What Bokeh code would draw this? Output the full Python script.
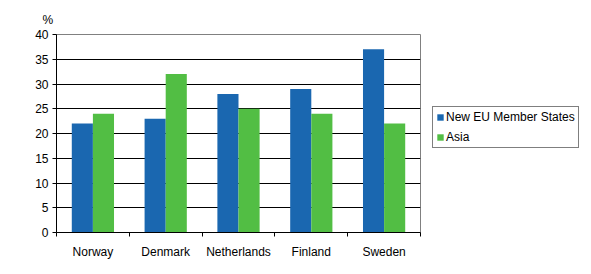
from bokeh.plotting import figure
from bokeh.models import Range1d, FixedTicker, Legend, LegendItem, Title
from bokeh.embed import file_html
from bokeh.resources import INLINE

countries = ["Norway", "Denmark", "Netherlands", "Finland", "Sweden"]
new_eu = [22, 23, 28, 29, 37]
asia = [24, 32, 25, 24, 22]
y_ticks = [0, 5, 10, 15, 20, 25, 30, 35, 40]

BLUE = "#1a67b0"
GREEN = "#52be44"
FONT = "Liberation Sans"
FS = "12px"

n = len(countries)
centers = [i + 0.5 for i in range(n)]
bw = 0.29

p = figure(frame_width=364, frame_height=198, output_backend="svg", toolbar_location=None,
           x_range=Range1d(0, n), y_range=Range1d(0, 40),
           min_border_left=56, min_border_right=171, min_border_top=34, min_border_bottom=42)
p.background_fill_color = "white"
p.border_fill_color = "white"
p.outline_line_color = "#808080"
p.outline_line_width = 1

r1 = p.vbar(x=[c - bw / 2 for c in centers], top=new_eu, width=bw, color=BLUE, line_color=None)
r2 = p.vbar(x=[c + bw / 2 for c in centers], top=asia, width=bw, color=GREEN, line_color=None)

p.xgrid.visible = False
p.ygrid.ticker = FixedTicker(ticks=y_ticks[1:-1])
p.ygrid.grid_line_color = "black"
p.ygrid.grid_line_width = 1
p.ygrid.grid_line_alpha = 1

xa = p.xaxis[0]
xa.ticker = FixedTicker(ticks=centers, minor_ticks=list(range(n + 1)))
xa.major_label_overrides = {c: name for c, name in zip(centers, countries)}
xa.major_tick_out = 0
xa.major_tick_in = 0
xa.minor_tick_out = 4
xa.minor_tick_in = 0
xa.minor_tick_line_color = "black"
xa.axis_line_color = "black"
xa.major_label_text_font = FONT
xa.major_label_text_font_size = FS
xa.major_label_text_color = "black"
xa.major_label_standoff = 8

ya = p.yaxis[0]
ya.ticker = FixedTicker(ticks=y_ticks)
ya.major_tick_out = 4
ya.major_tick_in = 0
ya.minor_tick_out = 0
ya.minor_tick_in = 0
ya.major_tick_line_color = "black"
ya.axis_line_color = "black"
ya.major_label_text_font = FONT
ya.major_label_text_font_size = FS
ya.major_label_text_color = "black"
ya.major_label_standoff = 4

t = Title(text="%", align="left", offset=-14, text_font=FONT, text_font_size=FS,
          text_font_style="normal", text_color="black", standoff=15)
p.add_layout(t, "above")

legend = Legend(items=[LegendItem(label="New EU Member States", renderers=[r1]),
                       LegendItem(label="Asia", renderers=[r2])],
                location=(12, 84))
legend.border_line_color = "black"
legend.border_line_width = 1
legend.background_fill_color = "white"
legend.label_text_font = FONT
legend.label_text_font_size = FS
legend.label_text_color = "black"
legend.glyph_width = 8
legend.glyph_height = 8
legend.label_standoff = 2
legend.padding = 3
legend.spacing = 6
legend.margin = 0
legend.label_height = 14
p.add_layout(legend, "right")

open("out.html", "w").write(file_html(p, INLINE))
